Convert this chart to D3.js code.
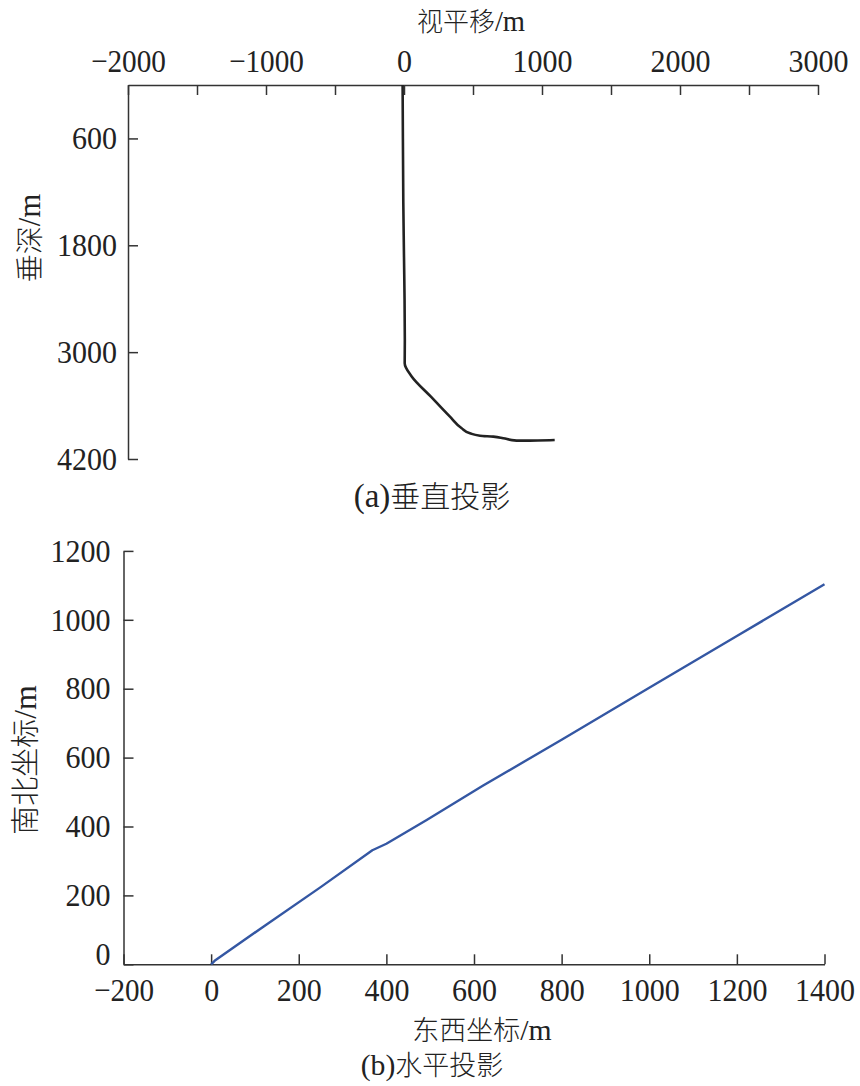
<!DOCTYPE html>
<html>
<head>
<meta charset="utf-8">
<script src="https://cdn.jsdelivr.net/npm/d3@7"></script>
<style>
html,body{margin:0;padding:0;background:#fff;}
svg{display:block;}
.num{font-family:"Liberation Serif","DejaVu Serif",serif;font-size:32px;fill:#222;}
.cjk{font-family:"Noto Sans CJK SC","Noto Sans",sans-serif;fill:#222;font-weight:300;}
.ser{font-family:"Liberation Serif","DejaVu Serif",serif;font-weight:400;}
</style>
</head>
<body>
<svg id="chart" width="860" height="1086"></svg>
<script>
// ---- Data: (a) vertical projection (horizontal displacement m, true vertical depth m)
const vertDisp  = [-10, -8, -5, 0, 4, 6, 5, 57, 195, 333, 418, 478, 551, 647, 719, 816, 912, 1092];
const vertDepth = [0, 600, 1325, 1932, 2400, 2864, 3125, 3276, 3500, 3725, 3855, 3911, 3938, 3949, 3967, 3994, 3994, 3987];
// ---- Data: (b) horizontal projection (east-west m, north-south m)
const horizEast  = [0, 8, 120, 250, 368, 400, 492, 620, 800, 1000, 1200, 1400];
const horizNorth = [0, 10, 110, 224, 331, 350, 419, 518, 652, 803, 953, 1103];
// ---- Tick values
const topXTicks = [-2000, -1500, -1000, -500, 0, 500, 1000, 1500, 2000, 2500, 3000];
const topYTicks = [600, 1800, 3000, 4200];
const botXTicks = [-200, 0, 200, 400, 600, 800, 1000, 1200, 1400];
const botYTicks = [0, 200, 400, 600, 800, 1000, 1200];

const svg = d3.select("#chart");
const axisColor = "#333";

function styleAxis(g){
  g.selectAll("path.domain").attr("stroke", axisColor).attr("stroke-width", 1.5);
  g.selectAll(".tick line").attr("stroke", axisColor).attr("stroke-width", 1.5);
  g.selectAll(".tick text").attr("class","num").attr("font-size", null).attr("font-family", null)
    .each(function(){
      const t = d3.select(this);
      const s = t.text();
      if (s.length) t.attr("textLength", s.length * 15).attr("lengthAdjust", "spacingAndGlyphs");
    });
}
const fmt = d => (d < 0 ? "\u2212" + Math.abs(d) : String(d));

// mixed label: parts [text, isSerif]
function label(parts, size, x, y, rotate){
  const t = svg.append("text").attr("class","cjk").attr("text-anchor","middle").attr("font-size", size);
  if (rotate) t.attr("transform", `translate(${x},${y}) rotate(-90)`);
  else t.attr("x", x).attr("y", y);
  parts.forEach(([s, serif]) => {
    const sp = t.append("tspan").text(s);
    if (serif) sp.attr("class","ser").attr("font-size", size * 1.1);
  });
  return t;
}

// ================= (a) =================
const xa = d3.scaleLinear().domain([-2000, 3000]).range([128, 818]);
const ya = d3.scaleLinear().domain([0, 4200]).range([85, 459]);

svg.append("g").attr("transform", `translate(0,${ya(0)})`)
  .call(d3.axisTop(xa).tickValues(topXTicks).tickSizeInner(-10).tickSizeOuter(0).tickPadding(13)
    .tickFormat(d => d % 1000 === 0 ? fmt(d) : ""))
  .call(styleAxis);

svg.append("g").attr("transform", `translate(${xa(-2000)},0)`)
  .call(d3.axisLeft(ya).tickValues(topYTicks).tickSizeInner(-10).tickSizeOuter(0).tickPadding(11).tickFormat(fmt))
  .call(styleAxis);

const lineA = d3.line().x((d, i) => xa(vertDisp[i])).y((d, i) => ya(vertDepth[i])).curve(d3.curveMonotoneY);
svg.append("path").datum(vertDisp).attr("d", lineA)
  .attr("fill", "none").attr("stroke", "#222").attr("stroke-width", 2.6).attr("stroke-linejoin","round");

label([["视平移", false], ["/m", true]], 26, 471, 31, false);
label([["垂深", false], ["/m", true]], 28, 40, 238, true);
label([["(a)", true], ["垂直投影", false]], 30, 432, 507, false);

// ================= (b) =================
const xb = d3.scaleLinear().domain([-200, 1400]).range([123.5, 824.5]);
const yb = d3.scaleLinear().domain([0, 1200]).range([964.3, 550.9]);

svg.append("g").attr("transform", `translate(0,${yb(0)})`)
  .call(d3.axisBottom(xb).tickValues(botXTicks).tickSizeInner(-10).tickSizeOuter(0).tickPadding(14).tickFormat(fmt))
  .call(styleAxis);

const gyb = svg.append("g").attr("transform", `translate(${xb(-200)},0)`)
  .call(d3.axisLeft(yb).tickValues(botYTicks).tickSizeInner(-10).tickSizeOuter(0).tickPadding(13).tickFormat(fmt))
  .call(styleAxis);
// the "0" north label sits a little above its tick in the reference
gyb.selectAll(".tick").filter(d => d === 0).select("text").attr("y", -10);

const lineB = d3.line().x((d, i) => xb(horizEast[i])).y((d, i) => yb(horizNorth[i]));
svg.append("path").datum(horizEast).attr("d", lineB)
  .attr("fill", "none").attr("stroke", "#3457a3").attr("stroke-width", 2.4).attr("stroke-linejoin","round");

label([["南北坐标", false], ["/m", true]], 29, 36, 760, true);
label([["东西坐标", false], ["/m", true]], 27, 482, 1040, false);
label([["(b)", true], ["水平投影", false]], 27, 432, 1075, false);
</script>
</body>
</html>
